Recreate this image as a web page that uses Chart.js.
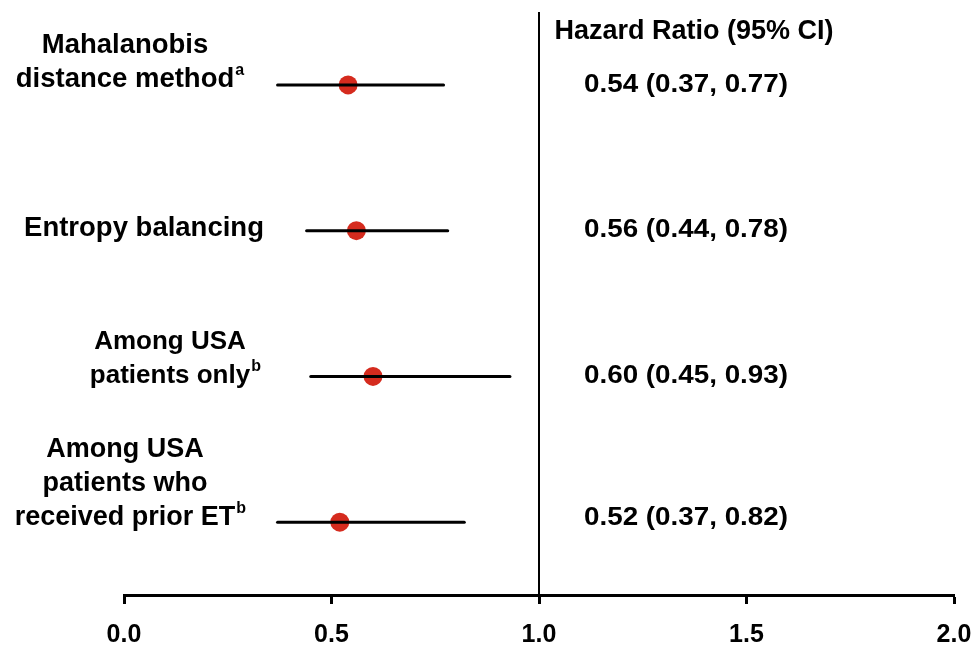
<!DOCTYPE html>
<html>
<head>
<meta charset="utf-8">
<script src="https://cdn.jsdelivr.net/npm/chart.js@4/dist/chart.umd.min.js"></script>
<style>
  html, body { margin: 0; padding: 0; background: #ffffff; }
  canvas { display: block; }
</style>
</head>
<body>
<canvas id="c" width="974" height="647"></canvas>
<script>
// ---- data ----
const categories = [
  ["Mahalanobis", "distance method"],
  ["Entropy balancing"],
  ["Among USA", "patients only"],
  ["Among USA", "patients who", "received prior ET"]
];
const superscripts = ["a", "", "b", "b"];
const hazardRatio = [0.54, 0.56, 0.60, 0.52];
const ciLower = [0.37, 0.44, 0.45, 0.37];
const ciUpper = [0.77, 0.78, 0.93, 0.82];
const xTicks = [0.0, 0.5, 1.0, 1.5, 2.0];
const referenceValue = 1.0;
const headerText = "Hazard Ratio (95% CI)";

// ---- styles / layout (not data) ----
const FONT = "'Liberation Sans', Arial, Helvetica, sans-serif";
const RED = "#d52b1e";
const labelCenterX = [125, 144, 170, 125];
const labelFontSize = [27.5, 27.5, 26, 27];
const labelBaselineOffset = [2, 5, 7, 3];
const labelLineGap = 34;
const valueOffsetY = [0, -0.5, 0, -4.5];

const rowY = categories.map((_, i) => i + 1);

const datasets = [];
// reference line at HR = 1
datasets.push({
  type: "line",
  data: [{ x: referenceValue, y: 0.5 }, { x: referenceValue, y: 4.5 }],
  borderColor: "#000",
  borderWidth: 2,
  pointRadius: 0,
  clip: false
});
// CI whiskers
rowY.forEach((y, i) => {
  datasets.push({
    type: "line",
    data: [{ x: ciLower[i], y: y }, { x: ciUpper[i], y: y }],
    borderColor: "#000",
    borderWidth: 3,
    borderCapStyle: "round",
    pointRadius: 0
  });
});
// point estimates
datasets.push({
  type: "scatter",
  data: rowY.map((y, i) => ({ x: hazardRatio[i], y: y })),
  backgroundColor: RED,
  borderWidth: 0,
  pointRadius: 9.5,
  pointHoverRadius: 9.5
});

const textPlugin = {
  id: "forestText",
  afterDraw(chart) {
    const ctx = chart.ctx;
    const ys = chart.scales.y;
    ctx.save();
    ctx.fillStyle = "#000";
    // left labels
    categories.forEach((lines, i) => {
      const yRow = ys.getPixelForValue(rowY[i]);
      const n = lines.length;
      ctx.font = "bold " + labelFontSize[i] + "px " + FONT;
      ctx.textAlign = "center";
      ctx.textBaseline = "alphabetic";
      lines.forEach((t, k) => {
        const by = yRow + labelBaselineOffset[i] - (n - 1 - k) * labelLineGap;
        ctx.fillText(t, labelCenterX[i], by);
        if (k === n - 1 && superscripts[i]) {
          const w = ctx.measureText(t).width;
          ctx.save();
          ctx.font = "bold 16px " + FONT;
          ctx.textAlign = "left";
          ctx.fillText(superscripts[i], labelCenterX[i] + w / 2 + 1, by - 12);
          ctx.restore();
        }
      });
    });
    // header
    ctx.font = "bold 27px " + FONT;
    ctx.textAlign = "center";
    ctx.textBaseline = "alphabetic";
    ctx.fillText(headerText, 694, 39);
    // values (slightly wide type, as in the reference)
    ctx.font = "bold 25px " + FONT;
    rowY.forEach((v, i) => {
      const yRow = ys.getPixelForValue(v) + valueOffsetY[i];
      const s = hazardRatio[i].toFixed(2) + " (" + ciLower[i].toFixed(2) + ", " + ciUpper[i].toFixed(2) + ")";
      const w = ctx.measureText(s).width;
      const sx = 204 / w;
      ctx.save();
      ctx.translate(686, yRow);
      ctx.scale(sx, 1);
      ctx.textAlign = "center";
      ctx.textBaseline = "middle";
      ctx.fillText(s, 0, 0);
      ctx.restore();
    });
    ctx.restore();
  }
};

new Chart(document.getElementById("c"), {
  data: { datasets: datasets },
  options: {
    responsive: false,
    animation: false,
    events: [],
    layout: { padding: { left: 124, top: 12, right: 20, bottom: 0 } },
    plugins: { legend: { display: false }, tooltip: { enabled: false } },
    scales: {
      x: {
        type: "linear",
        min: xTicks[0],
        max: xTicks[xTicks.length - 1],
        afterBuildTicks: (s) => { s.ticks = xTicks.map(v => ({ value: v })); },
        afterFit: (s) => { s.height = 52; s.paddingLeft = 0; s.paddingRight = 0; },
        border: { display: true, color: "#000", width: 3 },
        grid: {
          drawOnChartArea: false,
          drawTicks: true,
          tickLength: 9,
          tickWidth: 3,
          tickColor: "#000"
        },
        ticks: {
          color: "#000",
          padding: 16,
          maxRotation: 0,
          font: { family: FONT, size: 25, weight: "bold" },
          callback: (v) => Number(v).toFixed(1)
        }
      },
      y: {
        type: "linear",
        min: 0.5,
        max: 4.5,
        reverse: true,
        display: false
      }
    }
  },
  plugins: [textPlugin]
});
</script>
</body>
</html>
